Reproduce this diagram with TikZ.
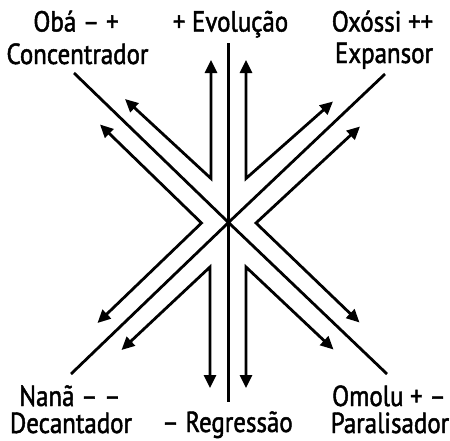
\documentclass[tikz,border=0pt]{standalone}
\usepackage{fontspec}
\setmainfont[FakeStretch=0.86,FakeBold=1.6]{PT Sans}
\usetikzlibrary{arrows.meta}
\begin{document}
\begin{tikzpicture}[x=1pt,y=-1pt,
  ln/.style={line width=2.8pt},
  arr/.style={line width=2.8pt,{Triangle[length=13pt,width=12pt]}-{Triangle[length=13pt,width=12pt]}},
  lbl/.style={anchor=base,inner sep=0pt,font=\fontsize{29}{34}\selectfont}]
\useasboundingbox (0,0) rectangle (450,440);
% main cross
\coordinate (C) at (228.5,222.5);
\coordinate (vt) at (228.5,43);
\coordinate (vb) at (228.5,402);
\coordinate (tl) at (74,73);
\coordinate (tr) at (385,74);
\coordinate (bl) at (71,374);
\coordinate (br) at (387,374);
\draw[ln] (vt) -- (vb);
\draw[ln] (tl) -- (C) -- (br);
\draw[ln] (tr) -- (C) -- (bl);
% chevrons
\coordinate (tlA) at (211,60);    \coordinate (tlV) at (211,178.5); \coordinate (tlB) at (125,99);
\coordinate (trA) at (246,60);    \coordinate (trV) at (246,178.5); \coordinate (trB) at (333,101.5);
\coordinate (lA) at (100,124.5);  \coordinate (lV) at (201.5,223);  \coordinate (lB) at (97.5,323);
\coordinate (rA) at (360,126.5);  \coordinate (rV) at (256,223);    \coordinate (rB) at (359.5,322.5);
\coordinate (blA) at (210,388);   \coordinate (blV) at (210,267);   \coordinate (blB) at (121.5,350);
\coordinate (brA) at (246,388);   \coordinate (brV) at (246,267);   \coordinate (brB) at (333.5,349.5);
\draw[arr] (tlA) -- (tlV) -- (tlB);
\draw[arr] (trA) -- (trV) -- (trB);
\draw[arr] (lA) -- (lV) -- (lB);
\draw[arr] (rA) -- (rV) -- (rB);
\draw[arr] (blA) -- (blV) -- (blB);
\draw[arr] (brA) -- (brV) -- (brB);
% labels
\node[lbl] (oba) at (76,31.5) {Obá – +};
\node[lbl] (conc) at (77.5,64) {Concentrador};
\node[lbl] (evo) at (230.5,31.5) {+ Evolução};
\node[lbl] (oxo) at (382.5,31.5) {Oxóssi ++};
\node[lbl] (exp) at (384,63) {Expansor};
\node[lbl] (nana) at (70,406) {Nanã – –};
\node[lbl] (deca) at (71,433) {Decantador};
\node[lbl] (reg) at (227.5,432) {– Regressão};
\node[lbl] (omo) at (389,406) {Omolu + –};
\node[lbl] (para) at (390,433) {Paralisador};
\end{tikzpicture}
\end{document}
